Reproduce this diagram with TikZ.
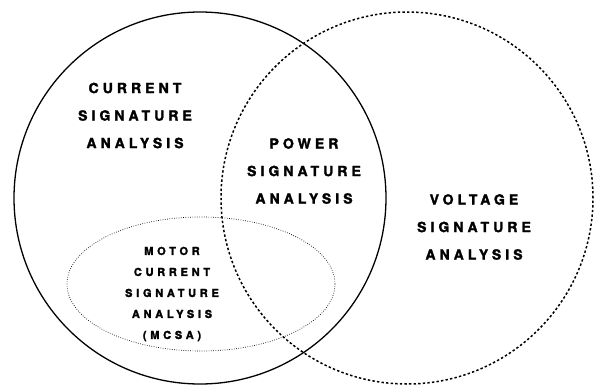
\documentclass[tikz,border=0pt]{standalone}
\usepackage{fontspec}
\usetikzlibrary{shapes.geometric}
\newfontfamily\wideheros[LetterSpace=29,FakeBold=2]{texgyreheros-bold.otf}
\newfontfamily\widerheros[LetterSpace=34,FakeBold=2]{texgyreheros-bold.otf}

\begin{document}
\begin{tikzpicture}
            [x=1pt,y=-1pt,
             every node/.style={inner sep=0pt},
             field/.style={circle,minimum size=372pt,line width=1.3pt},
             biglabel/.style={align=center,font=\wideheros\fontsize{14}{27.5}\selectfont},
             smalllabel/.style={align=center,font=\widerheros\fontsize{11}{21}\selectfont}]
            \useasboundingbox (0,0) rectangle (595,386);
            % the two fields
            \node[field,draw] (current) at (200,198) {};
            \node[field,draw,dash pattern=on 2.4pt off 2.2pt,line width=1.5pt] (voltage) at (407,198) {};
            % motor current part
            \node[ellipse,draw,line width=0.7pt,dash pattern=on 0.7pt off 1.6pt,
                  minimum width=268pt,minimum height=134pt] (mcsa) at (201,284) {};
            % labels
            \node[biglabel] (csa) at (135,115.5) {CURRENT\\SIGNATURE\\ANALYSIS};
            \node[biglabel] (psa) at (304,171) {POWER\\SIGNATURE\\ANALYSIS};
            \node[biglabel] (vsa) at (474,227) {VOLTAGE\\SIGNATURE\\ANALYSIS};
            \node[smalllabel] (mcsatext) at (172,294) {MOTOR\\CURRENT\\SIGNATURE\\ANALYSIS\\(MCSA)};
        \end{tikzpicture}
\end{document}
